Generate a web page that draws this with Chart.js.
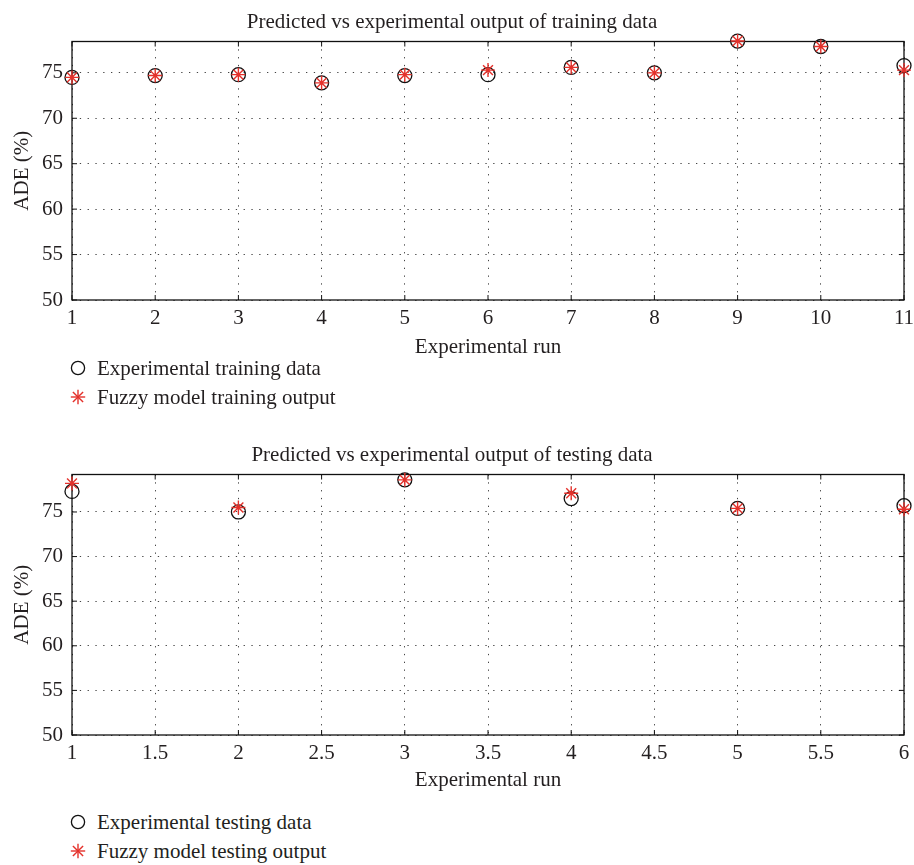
<!DOCTYPE html>
<html>
<head>
<meta charset="utf-8">
<script src="https://cdn.jsdelivr.net/npm/chart.js@4.4.0/dist/chart.umd.min.js"></script>
<style>
  html, body { margin: 0; padding: 0; background: #fff; }
  body { width: 914px; height: 865px; position: relative; overflow: hidden; font-family: "Liberation Serif", "DejaVu Serif", serif; color: #231f20; }
  .cv { position: absolute; left: 0; }
  .leg { position: absolute; left: 69px; height: 26px; line-height: 26px; font-size: 21px; white-space: nowrap; }
  .leg svg { position: absolute; left: 0; top: 4px; }
  .leg span { position: absolute; left: 28px; top: 0; }
</style>
</head>
<body>
<canvas id="c1" class="cv" width="914" height="364" style="top:0px"></canvas>
<canvas id="c2" class="cv" width="914" height="364" style="top:433px"></canvas>

<div class="leg" style="top:355px">
  <svg width="18" height="18" viewBox="0 0 18 18"><circle cx="9" cy="9" r="6.6" fill="none" stroke="#111" stroke-width="1.3"/></svg>
  <span id="l1"></span>
</div>
<div class="leg" style="top:384px">
  <svg width="18" height="18" viewBox="0 0 18 18"><g stroke="#e4312b" stroke-width="1.4"><line x1="9" y1="1.8" x2="9" y2="16.2"/><line x1="1.8" y1="9" x2="16.2" y2="9"/><line x1="3.9" y1="3.9" x2="14.1" y2="14.1"/><line x1="14.1" y1="3.9" x2="3.9" y2="14.1"/></g></svg>
  <span id="l2"></span>
</div>
<div class="leg" style="top:809px">
  <svg width="18" height="18" viewBox="0 0 18 18"><circle cx="9" cy="9" r="6.6" fill="none" stroke="#111" stroke-width="1.3"/></svg>
  <span id="l3"></span>
</div>
<div class="leg" style="top:838px">
  <svg width="18" height="18" viewBox="0 0 18 18"><g stroke="#e4312b" stroke-width="1.4"><line x1="9" y1="1.8" x2="9" y2="16.2"/><line x1="1.8" y1="9" x2="16.2" y2="9"/><line x1="3.9" y1="3.9" x2="14.1" y2="14.1"/><line x1="14.1" y1="3.9" x2="3.9" y2="14.1"/></g></svg>
  <span id="l4"></span>
</div>

<script>
// ---- data ----
const trainRuns = [1, 2, 3, 4, 5, 6, 7, 8, 9, 10, 11];
const trainExperimental = [74.5, 74.7, 74.8, 73.9, 74.7, 74.8, 75.6, 75.0, 78.5, 77.9, 75.8];
const trainFuzzy = [74.5, 74.7, 74.8, 73.9, 74.8, 75.3, 75.6, 75.0, 78.5, 77.9, 75.3];

const testRuns = [1, 2, 3, 4, 5, 6];
const testExperimental = [77.3, 75.0, 78.6, 76.5, 75.4, 75.7];
const testFuzzy = [78.2, 75.5, 78.6, 77.1, 75.4, 75.3];

const yTickValues = [50, 55, 60, 65, 70, 75];
const trainXTicks = [1, 2, 3, 4, 5, 6, 7, 8, 9, 10, 11];
const testXTicks = [1, 1.5, 2, 2.5, 3, 3.5, 4, 4.5, 5, 5.5, 6];

const titles = ["Predicted vs experimental output of training data", "Predicted vs experimental output of testing data"];
const legendLabels = ["Experimental training data", "Fuzzy model training output", "Experimental testing data", "Fuzzy model testing output"];
const xTitle = "Experimental run";
const yTitle = "ADE (%)";

document.getElementById('l1').textContent = legendLabels[0];
document.getElementById('l2').textContent = legendLabels[1];
document.getElementById('l3').textContent = legendLabels[2];
document.getElementById('l4').textContent = legendLabels[3];

const FONT = "'Liberation Serif', 'DejaVu Serif', serif";
const FS = 21;
const TEXT = '#231f20';
const RED = '#e4312b';

const framePlugin = {
  id: 'frame',
  beforeDatasetsDraw(chart) {
    const { ctx, chartArea: a, scales } = chart;
    ctx.save();
    ctx.strokeStyle = '#111';
    ctx.lineWidth = 1.3;
    ctx.strokeRect(a.left, a.top, a.right - a.left, a.bottom - a.top);
    ctx.lineWidth = 1;
    const tl = 5;
    scales.x.ticks.forEach(t => {
      const px = scales.x.getPixelForValue(t.value);
      ctx.beginPath();
      ctx.moveTo(px, a.bottom); ctx.lineTo(px, a.bottom - tl);
      ctx.moveTo(px, a.top); ctx.lineTo(px, a.top + tl);
      ctx.stroke();
    });
    scales.y.ticks.forEach(t => {
      const py = scales.y.getPixelForValue(t.value);
      ctx.beginPath();
      ctx.moveTo(a.left, py); ctx.lineTo(a.left + tl, py);
      ctx.moveTo(a.right, py); ctx.lineTo(a.right - tl, py);
      ctx.stroke();
    });
    ctx.restore();
  }
};

function makeChart(id, xs, exp, fuzzy, xTicks, yMax, title, xAxisHeight) {
  return new Chart(document.getElementById(id), {
    type: 'scatter',
    data: {
      datasets: [
        {
          label: 'exp',
          data: xs.map((x, i) => ({ x: x, y: exp[i] })),
          pointStyle: 'circle',
          pointRadius: 7,
          pointHoverRadius: 7,
          borderColor: '#111',
          backgroundColor: 'rgba(0,0,0,0)',
          borderWidth: 1.3,
          order: 1,
          clip: false
        },
        {
          label: 'fuzzy',
          data: xs.map((x, i) => ({ x: x, y: fuzzy[i] })),
          pointStyle: 'star',
          pointRadius: 7,
          pointHoverRadius: 7,
          borderColor: RED,
          backgroundColor: RED,
          borderWidth: 1.4,
          order: 0,
          clip: false
        }
      ]
    },
    options: {
      responsive: false,
      animation: false,
      events: [],
      layout: { padding: { left: 0, right: 10, top: 0, bottom: 0 } },
      plugins: {
        legend: { display: false },
        tooltip: { enabled: false },
        title: {
          display: true,
          text: title,
          color: TEXT,
          font: { family: FONT, size: FS, weight: 'normal', lineHeight: 1.2 },
          padding: { top: 9.4, bottom: 6.9 }
        }
      },
      scales: {
        x: {
          type: 'linear',
          min: xTicks[0],
          max: xTicks[xTicks.length - 1],
          afterBuildTicks(scale) { scale.ticks = xTicks.map(v => ({ value: v })); },
          afterFit(scale) {
            scale.height = xAxisHeight;
            scale.paddingLeft = 0;
            scale.paddingRight = 0;
          },
          ticks: {
            color: TEXT,
            padding: 5.4,
            maxRotation: 0,
            autoSkip: false,
            font: { family: FONT, size: FS },
            callback: v => String(v)
          },
          grid: {
            drawTicks: false,
            color: '#444',
            lineWidth: 1
          },
          border: { display: false, dash: [1.3, 6.5] },
          title: {
            display: true,
            text: xTitle,
            color: TEXT,
            font: { family: FONT, size: FS, lineHeight: 1.2 },
            padding: { top: 0, bottom: 4 }
          }
        },
        y: {
          type: 'linear',
          min: 50,
          max: yMax,
          afterBuildTicks(scale) { scale.ticks = yTickValues.map(v => ({ value: v })); },
          afterFit(scale) {
            scale.width = 72;
            scale.paddingTop = 0;
            scale.paddingBottom = 0;
          },
          ticks: {
            color: TEXT,
            padding: 9,
            font: { family: FONT, size: FS }
          },
          grid: {
            drawTicks: false,
            color: '#444',
            lineWidth: 1
          },
          border: { display: false, dash: [1.3, 6.5] },
          title: {
            display: true,
            text: yTitle,
            color: TEXT,
            font: { family: FONT, size: FS, lineHeight: 1.2 },
            padding: { top: 9.4, bottom: 0 }
          }
        }
      }
    },
    plugins: [framePlugin]
  });
}

makeChart('c1', trainRuns, trainExperimental, trainFuzzy, trainXTicks, 78.45, titles[0], 64);
makeChart('c2', testRuns, testExperimental, testFuzzy, testXTicks, 79.2, titles[1], 62);
</script>
</body>
</html>
